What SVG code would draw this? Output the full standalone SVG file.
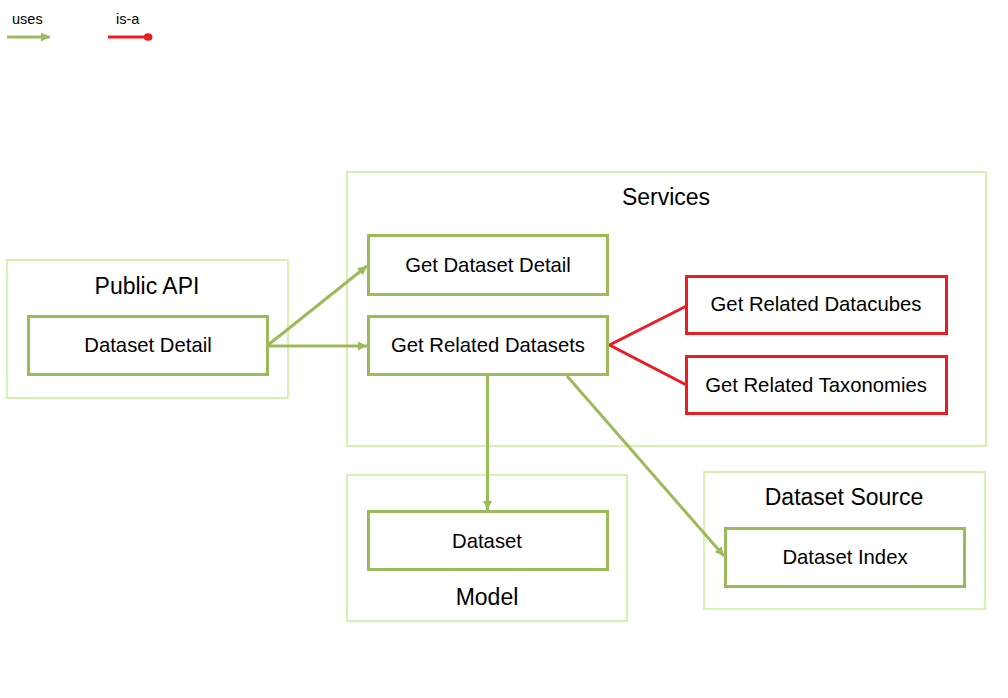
<svg xmlns="http://www.w3.org/2000/svg" width="1008" height="698" viewBox="0 0 1008 698">
<style>
text{font-family:"Liberation Sans",Arial,sans-serif;fill:#000;text-anchor:middle}
.title{font-size:23px}
.lbl{font-size:20.3px}
.leg{font-size:14.5px;text-anchor:start}
.cont{fill:none;stroke:#d5f2b1;stroke-width:2}
.node{fill:#fff;stroke:#9bbb59;stroke-width:3}
.rnode{fill:#fff;stroke:#ed1c24;stroke-width:3}
.uses{fill:none;stroke:#9bbb59;stroke-width:3}
.isa{fill:none;stroke:#ed1c24;stroke-width:3}
</style>
<defs>
<marker id="ga" viewBox="0 0 10 10" refX="10" refY="5" markerWidth="3" markerHeight="3" orient="auto" markerUnits="strokeWidth">
<path d="M0,0 L10,5 L0,10 z" fill="#9bbb59"/>
</marker>
<marker id="rd" viewBox="0 0 10 10" refX="8" refY="5" markerWidth="3.2" markerHeight="3.2" orient="auto" markerUnits="strokeWidth">
<ellipse cx="5" cy="5" rx="4.5" ry="4" fill="#ed1c24"/>
</marker>
</defs>
<rect width="1008" height="698" fill="#fff"/>
<g id="legend">
<text class="leg" x="12" y="24">uses</text>
<line class="uses" x1="7" y1="37" x2="50" y2="37" marker-end="url(#ga)"/>
<text class="leg" x="116" y="24">is-a</text>
<line class="isa" x1="108" y1="37" x2="151" y2="37" marker-end="url(#rd)"/>
</g>
<g id="public-api">
<rect class="cont" x="7" y="260" width="281" height="138"/>
<text class="title" x="147" y="294">Public API</text>
</g>
<g id="services">
<rect class="cont" x="347" y="172" width="639" height="274"/>
<text class="title" x="666" y="205">Services</text>
</g>
<g id="model">
<rect class="cont" x="347" y="475" width="280" height="146"/>
<text class="title" x="487" y="605">Model</text>
</g>
<g id="dataset-source">
<rect class="cont" x="704" y="472" width="281" height="137"/>
<text class="title" x="844" y="505">Dataset Source</text>
</g>
<g id="connectors">
<line class="uses" x1="268" y1="345" x2="367" y2="266" marker-end="url(#ga)"/>
<line class="uses" x1="268" y1="346" x2="367" y2="346" marker-end="url(#ga)"/>
<line class="uses" x1="487.5" y1="375" x2="487.5" y2="510" marker-end="url(#ga)"/>
<line class="uses" x1="567" y1="376" x2="724" y2="556" marker-end="url(#ga)"/>
<polyline class="isa" points="686.5,306 609.5,345 686.5,385"/>
</g>
<g id="dataset-detail">
<rect class="node" x="28.5" y="316.5" width="239" height="58"/>
<text class="lbl" x="148" y="351.5">Dataset Detail</text>
</g>
<g id="get-dataset-detail">
<rect class="node" x="368.5" y="235.5" width="239" height="59"/>
<text class="lbl" x="488" y="272">Get Dataset Detail</text>
</g>
<g id="get-related-datasets">
<rect class="node" x="368.5" y="316.5" width="239" height="58"/>
<text class="lbl" x="488" y="351.5">Get Related Datasets</text>
</g>
<g id="get-related-datacubes">
<rect class="rnode" x="686.5" y="276.5" width="260" height="57"/>
<text class="lbl" x="816" y="311">Get Related Datacubes</text>
</g>
<g id="get-related-taxonomies">
<rect class="rnode" x="686.5" y="356.5" width="260" height="57"/>
<text class="lbl" x="816" y="391.5">Get Related Taxonomies</text>
</g>
<g id="dataset">
<rect class="node" x="368.5" y="511.5" width="239" height="58"/>
<text class="lbl" x="487" y="547.5">Dataset</text>
</g>
<g id="dataset-index">
<rect class="node" x="725.5" y="528.5" width="239" height="58"/>
<text class="lbl" x="845" y="563.5">Dataset Index</text>
</g>
</svg>
